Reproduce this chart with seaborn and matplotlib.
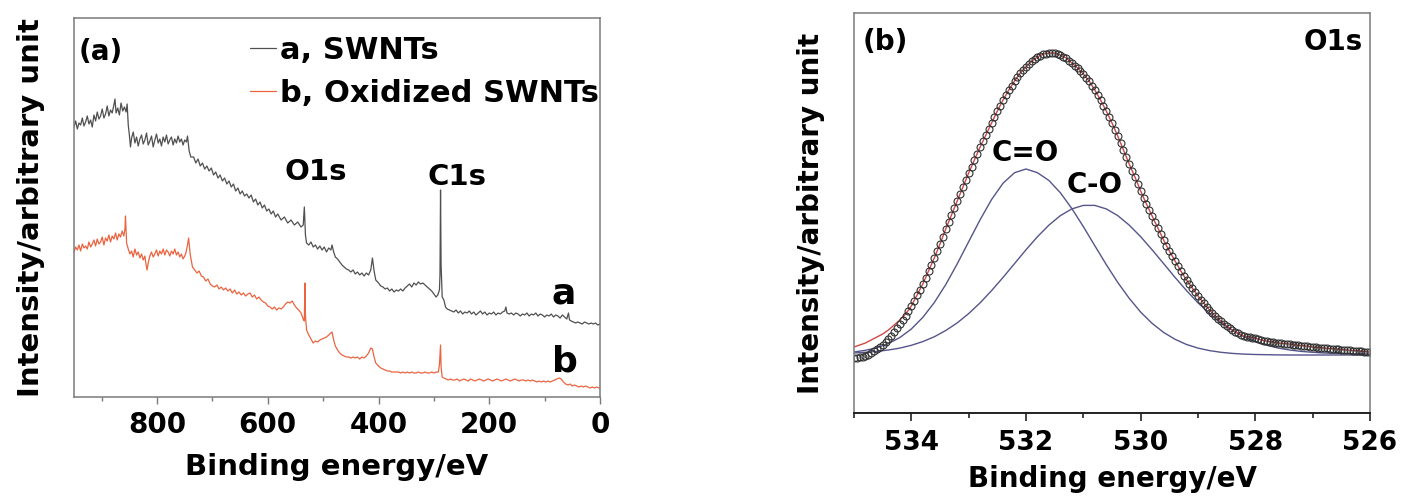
import numpy as np
import pandas as pd
import matplotlib
matplotlib.use("Agg")
import matplotlib.pyplot as plt
import seaborn as sns

# ---------------- Panel (a): XPS survey spectra (binding energy eV, intensity a.u.) ----------------
survey_swnt = [(950,268),(947,274),(944,266),(941,272),(938,270),(935,277),(932,269),(929,273),(926,279),(923,271),
    (920,275),(917,268),(914,280),(911,274),(908,283),(905,276),(902,279),(899,286),(896,277),(893,281),(890,289),
    (887,279),(884,285),(881,282),(878,290),(876,296),(874,282),(871,287),(868,280),(865,292),(862,284),(859,288),
    (856,283),(854,291),(852,270),(850,260),(848,248),(846,257),(843,263),(840,252),(837,258),(834,249),(831,256),
    (828,260),(825,251),(822,255),(819,262),(816,250),(813,254),(810,259),(807,248),(804,255),(801,261),(798,252),
    (795,256),(792,249),(789,258),(786,253),(783,260),(780,251),(777,255),(774,258),(771,250),(768,256),(765,252),
    (762,259),(759,253),(756,256),(753,250),(750,255),(747,253),(745,259),(742,244),(739,238),
    (734,238),(730,232),(726,236),(722,229),(718,232),(714,226),(710,229),(706,224),
    (702,227),(698,220),(694,223),(690,217),(686,220),(682,214),(678,217),(674,211),(670,214),(666,208),(662,211),
    (658,204),(654,207),(650,201),(646,204),(642,199),(638,201),(634,197),(630,200),(626,193),(622,196),(618,190),
    (614,193),(610,187),(606,190),(602,184),(598,186),(594,181),(590,184),(586,178),(582,181),(576,175),(570,178),
    (564,172),(558,175),(552,170),(546,173),(540,168),(536,170),(534,188),(532,160),(530,152),(526,150),(522,153),
    (518,148),(514,150),(510,146),(506,149),(502,145),(498,148),(494,143),(490,147),(486,145),(484,150),(481,143),
    (478,138),(474,136),(470,133),(466,130),(462,128),(458,126),(454,125),(450,123),(446,125),(442,121),(438,123),
    (434,120),(430,122),(426,119),(422,122),(418,120),(414,125),(411,137),(408,124),(405,115),(400,112),(396,109),
    (392,108),(388,106),(384,107),(380,104),(376,106),(372,103),(368,105),(364,104),(360,106),(356,104),(352,107),
    (348,109),(344,111),(340,108),(336,112),(332,110),(328,113),(324,111),(320,112),(316,110),(312,108),(308,106),
    (304,104),(300,101),(296,98),(293,100),(290,105),(289,120),(288,205),(287,130),(285,98),(282,95),(279,88),
    (276,86),(272,85),(268,84),(264,83),(260,85),(256,82),(252,84),(248,81),(244,83),(240,82),(236,84),(232,81),
    (228,83),(224,80),(220,82),(216,84),(212,81),(208,83),(204,80),(200,82),(196,81),(192,83),(188,80),(184,82),
    (180,81),(176,83),(172,84),(170,88),(168,82),(164,81),(160,82),(156,80),(152,82),(148,81),(144,79),(140,81),
    (136,80),(132,82),(128,79),(124,81),(120,80),(116,82),(112,79),(108,81),(104,80),(100,78),(96,80),(92,79),
    (88,81),(84,78),(80,80),(76,79),(72,77),(68,80),(64,78),(60,76),(57,82),(55,75),(52,74),(48,73),(44,72),
    (40,73),(36,72),(32,71),(28,73),(24,72),(20,71),(16,72),(12,71),(8,72),(4,70),(0,71)]

survey_oxidized = [(950,143),(947,148),(944,145),(941,150),(938,144),(935,151),(932,147),(929,149),(926,146),
    (923,153),(920,148),(917,151),(914,155),(911,149),(908,156),(905,151),(902,153),(899,158),(896,150),(893,157),
    (890,154),(887,160),(884,153),(881,159),(878,156),(875,162),(872,155),(869,161),(866,158),(863,164),(860,159),
    (858,166),(857,179),(855,152),(852,146),(849,141),(846,144),(843,138),(840,146),(837,140),(834,143),(831,137),
    (828,141),(825,135),(822,139),(820,131),(818,125),(816,132),(813,139),(810,143),(807,138),(804,141),(801,145),
    (798,139),(795,144),(792,141),(789,146),(786,140),(783,145),(780,143),(777,139),(774,144),(771,141),(768,146),
    (765,140),(762,143),(759,138),(756,141),(753,136),(750,139),(748,142),(745,150),(743,157),(740,140),
    (736,128),(732,125),(728,122),(724,124),(720,119),(716,118),(712,114),
    (708,116),(704,111),(700,109),(696,108),(692,110),(688,106),(684,108),(680,105),(676,107),(672,104),(668,106),
    (664,102),(660,105),(656,101),(652,103),(648,100),(644,102),(640,99),(636,101),(632,102),(628,98),(624,100),
    (620,96),(616,98),(612,95),(608,93),(604,92),(600,89),(596,88),(592,86),(588,88),(584,85),(580,87),(576,86),
    (572,88),(568,91),(564,93),(560,92),(556,94),(552,90),(548,87),(544,85),(540,82),(536,76),(534,74),(533,112),
    (532,80),(530,65),(526,60),(522,56),(518,52),(514,54),(510,53),(506,55),(502,56),(498,57),(494,58),(490,60),
    (486,62),(484,63),(481,55),(478,49),(474,45),(470,42),(466,40),(462,39),(458,38),(454,38),(450,37),(446,38),
    (442,37),(438,38),(434,36),(430,38),(426,37),(422,39),(418,42),(414,47),(411,46),(408,38),(405,32),(400,29),
    (396,27),(392,26),(388,25),(384,24),(380,24),(376,23),(372,23),(368,23),(364,23),(360,22),(356,23),(352,22),
    (348,23),(344,22),(340,23),(336,22),(332,22),(328,23),(324,22),(320,22),(316,23),(312,22),(308,22),(304,23),
    (300,22),(296,23),(292,23),(290,30),(288,50),(287,28),(285,18),(282,17),(278,16),(274,15),(270,16),(266,15),
    (262,15),(258,16),(254,14),(250,15),(246,16),(242,15),(238,14),(234,16),(230,15),(226,14),(222,15),(218,16),
    (214,15),(210,14),(206,15),(202,16),(198,15),(194,14),(190,15),(186,16),(182,15),(178,14),(174,15),(170,16),
    (166,15),(162,14),(158,15),(154,16),(150,15),(146,14),(142,15),(138,15),(134,14),(130,15),(126,14),(122,15),
    (118,14),(114,13),(110,14),(106,13),(102,14),(98,13),(94,14),(90,13),(86,14),(82,15),(78,16),(74,17),(70,16),
    (66,13),(62,11),(58,10),(54,11),(50,9),(46,10),(42,9),(38,8),(34,9),(30,8),(26,9),(22,8),(18,7),(14,8),(10,7),
    (6,8),(2,7),(0,7)]

survey_labels = ["a, SWNTs", "b, Oxidized SWNTs"]
survey_xticks = [800, 600, 400, 200, 0]
survey_xminor = [900, 700, 500, 300, 100]

# ---------------- Panel (b): O1s high-resolution spectrum ----------------
o1s_measured = [55, 55.5, 56, 56.5, 57, 58.5, 60, 62, 64, 66,
    68, 71, 74, 77.5, 81, 85, 89, 93, 97, 102,
    107, 112.5, 118, 123.5, 129, 135.5, 142, 148.5, 155, 162,
    169, 176.5, 184, 191, 198, 205, 212, 219, 226, 233,
    240, 246.5, 253, 259.5, 266, 272, 278, 284, 290, 296,
    302, 307.5, 313, 318, 323, 327.5, 332, 336, 340, 343,
    346, 349, 352, 354, 356, 357.5, 359, 359.5, 360, 360,
    360, 359, 358, 356.5, 355, 352.5, 350, 347.5, 345, 342,
    339, 335.5, 332, 327.5, 323, 318, 313, 307.5, 302, 296,
    290, 283.5, 277, 270, 263, 256, 249, 242.5, 236, 229,
    222, 215.5, 209, 203, 197, 191, 185, 179, 173, 167.5,
    162, 157, 152, 147, 142, 137.5, 133, 129, 125, 121,
    117, 113.5, 110, 106.5, 103, 100, 97, 94.5, 92, 89.5,
    87, 85, 83, 81.5, 80, 78.5, 77, 76.5, 76, 75.5,
    75, 74, 73, 72.5, 72, 71.5, 71, 70.5, 70, 69.8,
    69.5, 69.2, 69, 68.5, 68, 67.8, 67.5, 67.2, 67, 66.5,
    66, 65.8, 65.5, 65.2, 65, 64.8, 64.5, 64.2, 64, 63.8,
    63.5, 63.2, 63, 62.8, 62.5, 62.2, 62, 61.8, 61.5, 61.2,
    61]
o1s_measured_ev = np.linspace(535.0, 526.0, len(o1s_measured))

o1s_fit = [66, 68, 70, 73, 76, 79, 83, 88, 93, 99, 107,
    118, 129, 142, 155, 169, 184, 198, 212, 226, 240,
    253, 266, 278, 290, 302, 313, 323, 332, 340, 346,
    352, 356, 359, 360, 360, 358, 355, 350, 345, 339,
    332, 323, 313, 302, 290, 277, 263, 249, 236, 222,
    209, 197, 185, 173, 162, 152, 142, 133, 125, 117,
    110, 103, 97, 92, 87, 83, 80, 77, 76, 75,
    73, 72, 71, 70, 69.5, 69, 68, 67.5, 67, 66,
    65.5, 65, 64.5, 64, 63.5, 63, 62.5, 62, 61.5, 61]
o1s_fit_ev = np.linspace(535.0, 526.0, len(o1s_fit))

peak_c_double_o = [61, 62.7, 65.3, 69.4, 75.5, 84, 95.6, 110.4, 128.4, 149.1,
    171.3, 193.3, 213.5, 229.8, 240.3, 244, 240.3, 232.5, 220.2, 204.4,
    186.4, 167.3, 148.4, 130.6, 114.7, 100.9, 89.6, 80.6, 73.7, 68.5,
    64.9, 62.4, 60.7, 59.6, 58.9, 58.5, 58.3, 58.1, 58, 58,
    58, 58, 58, 58, 58, 58]
peak_c_single_o = [60.0, 60.7, 61.6, 63.0, 64.9, 67.7, 71.4, 76.2, 82.5, 90.1,
    99.4, 110.2, 122.4, 135.6, 149.4, 163.2, 176.3, 187.9, 197.4, 204.1,
    207.6, 207.6, 204.1, 197.4, 187.9, 176.3, 163.2, 149.4, 135.6, 122.4,
    110.2, 99.4, 90.1, 82.5, 76.2, 71.4, 67.7, 64.9, 63.0, 61.6,
    60.7, 60.0, 59.6, 59.3, 59.1, 59.0]
peak_ev = np.linspace(535.0, 526.0, len(peak_c_double_o))

o1s_xticks = [534, 532, 530, 528, 526]
o1s_xminor = [535, 533, 531, 529, 527]

# ---------------- Styling ----------------
sns.set_style("white")
plt.rcParams["font.family"] = ["DejaVu Sans"]
plt.rcParams["font.weight"] = "bold"
plt.rcParams["axes.labelweight"] = "bold"
plt.rcParams["text.color"] = "black"
plt.rcParams["axes.labelcolor"] = "black"
plt.rcParams["xtick.color"] = "black"
plt.rcParams["ytick.color"] = "black"

GRAY = "#505050"
ORANGE = "#ea6440"
BLUE = "#55558c"
RED = "#d04848"
FRAME = "#7a7a7a"

fig = plt.figure(figsize=(14.02, 5.0), dpi=100)
ax1 = fig.add_axes([74 / 1402, 103 / 500, 526 / 1402, 379 / 500])
ax2 = fig.add_axes([854 / 1402, 87 / 500, 516 / 1402, 400 / 500])

# ----- panel (a)
ev_a, int_a = zip(*survey_swnt)
ev_b, int_b = zip(*survey_oxidized)
df_a = pd.DataFrame({"ev": ev_a, "intensity": int_a})
df_b = pd.DataFrame({"ev": ev_b, "intensity": int_b})
sns.lineplot(data=df_a, x="ev", y="intensity", ax=ax1, color=GRAY, linewidth=0.9,
             sort=False, estimator=None, label=survey_labels[0])
sns.lineplot(data=df_b, x="ev", y="intensity", ax=ax1, color=ORANGE, linewidth=0.9,
             sort=False, estimator=None, label=survey_labels[1])

ax1.set_xlim(950, 0)
ax1.set_ylim(-2, 377)
ax1.set_yticks([])
ax1.set_xticks(survey_xticks)
ax1.set_xticks(survey_xminor, minor=True)
ax1.tick_params(axis="x", which="major", bottom=True, direction="out", length=5, width=1,
                color=FRAME, labelcolor="black", labelsize=20, pad=5)
ax1.tick_params(axis="x", which="minor", bottom=True, direction="out", length=3, width=1, color=FRAME)
for s in ax1.spines.values():
    s.set_color(FRAME)
    s.set_linewidth(1.1)
ax1.set_xlabel("Binding energy/eV", fontsize=21, fontweight="bold", labelpad=10, color="black")
ax1.set_ylabel("Intensity/arbitrary unit", fontsize=21, fontweight="bold", labelpad=21, color="black")

leg = ax1.legend(loc="upper left", bbox_to_anchor=(0.334, 0.9525), frameon=False,
                 prop={"size": 22, "weight": "bold"}, handlelength=0.85, handletextpad=0.15,
                 borderpad=0, borderaxespad=0, labelspacing=0.45)
for t in leg.get_texts():
    t.set_color("black")

ax1.text(0.051, 0.91, "(a)", transform=ax1.transAxes, fontsize=20, fontweight="bold",
         ha="center", va="center")
ax1.text(513, 223, "O1s", fontsize=21, fontweight="bold", ha="center", va="center")
ax1.text(258, 218, "C1s", fontsize=21, fontweight="bold", ha="center", va="center")
ax1.text(66, 102, "a", fontsize=26, fontweight="bold", ha="center", va="center")
ax1.text(64, 33, "b", fontsize=26, fontweight="bold", ha="center", va="center")

# ----- panel (b)
df_meas = pd.DataFrame({"ev": o1s_measured_ev, "intensity": o1s_measured})
df_fit = pd.DataFrame({"ev": o1s_fit_ev, "intensity": o1s_fit})
df_p1 = pd.DataFrame({"ev": peak_ev, "intensity": peak_c_double_o})
df_p2 = pd.DataFrame({"ev": peak_ev, "intensity": peak_c_single_o})

sns.lineplot(data=df_p1, x="ev", y="intensity", ax=ax2, color=BLUE, linewidth=1.0,
             sort=False, estimator=None)
sns.lineplot(data=df_p2, x="ev", y="intensity", ax=ax2, color=BLUE, linewidth=1.0,
             sort=False, estimator=None)
sns.lineplot(data=df_fit, x="ev", y="intensity", ax=ax2, color=RED, linewidth=1.0,
             sort=False, estimator=None)
sns.lineplot(data=df_meas, x="ev", y="intensity", ax=ax2, linestyle="none", marker="o",
             markersize=5, markerfacecolor="none", markeredgecolor="#303030",
             markeredgewidth=0.8, sort=False, estimator=None)

ax2.set_xlim(535, 526)
ax2.set_ylim(0, 400)
ax2.set_yticks([])
ax2.set_xticks(o1s_xticks)
ax2.set_xticks(o1s_xminor, minor=True)
ax2.tick_params(axis="x", which="major", bottom=True, direction="out", length=6, width=1.2,
                color="#222222", labelcolor="black", labelsize=19, pad=6)
ax2.tick_params(axis="x", which="minor", bottom=True, direction="out", length=3.5, width=1.2,
                color="#222222")
for s in ax2.spines.values():
    s.set_color(FRAME)
    s.set_linewidth(1.1)
ax2.spines["bottom"].set_color("#222222")
ax2.spines["bottom"].set_linewidth(1.4)
ax2.set_xlabel("Binding energy/eV", fontsize=20, fontweight="bold", labelpad=7, color="black")
ax2.set_ylabel("Intensity/arbitrary unit", fontsize=20, fontweight="bold", labelpad=21, color="black")

ax2.text(0.06, 0.9275, "(b)", transform=ax2.transAxes, fontsize=20, fontweight="bold",
         ha="center", va="center")
ax2.text(0.929, 0.9275, "O1s", transform=ax2.transAxes, fontsize=20, fontweight="bold",
         ha="center", va="center")
ax2.text(532.02, 260, "C=O", fontsize=20, fontweight="bold", ha="center", va="center")
ax2.text(530.81, 228, "C-O", fontsize=20, fontweight="bold", ha="center", va="center")

fig.savefig("out.png", dpi=100)
